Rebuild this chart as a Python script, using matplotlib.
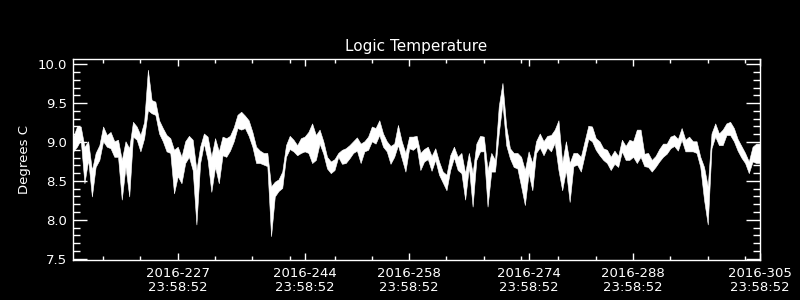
import matplotlib
matplotlib.use('Agg')
import matplotlib.pyplot as plt
import matplotlib.dates as mdates
from matplotlib.ticker import MultipleLocator, FormatStrFormatter, FixedLocator
from datetime import datetime, timedelta
import pandas as pd

# samples every 12 h starting 2016-08-01 00:00 (DOY 214)
start_time = '2016-08-01'
sample_step = '12h'

# upper / lower envelope of the logic temperature trace (deg C)
temp_hi = [
    9.07, 9.20, 9.20, 8.94, 9.01, 8.64, 8.86, 8.96, 9.20, 9.09, 9.13, 9.01, 9.03, 8.77, 9.01, 8.92,
    9.26, 9.20, 9.09, 9.26, 9.93, 9.54, 9.52, 9.28, 9.18, 9.09, 9.05, 8.90, 8.94, 8.81, 9.01,
    9.08, 9.03, 8.64, 8.94, 9.11, 9.07, 8.81, 9.05, 8.88, 9.07, 9.05, 9.08, 9.19, 9.35, 9.39,
    9.34, 9.28, 9.13, 8.94, 8.89, 8.86, 8.86, 8.43, 8.49, 8.52, 8.62, 8.96, 9.08, 9.03, 8.96,
    9.05, 9.07, 9.13, 9.24, 9.09, 9.16, 9.01, 8.81, 8.75, 8.78, 8.86, 8.90, 8.92, 8.96, 9.01, 9.06,
    8.98, 9.01, 9.07, 9.20, 9.18, 9.28, 9.11, 9.01, 8.95, 8.98, 9.22, 9.01, 8.86, 9.07, 9.07,
    9.08, 8.86, 8.91, 8.94, 8.82, 8.92, 8.75, 8.62, 8.58, 8.83, 8.94, 8.81, 8.86, 8.60, 8.86,
    8.60, 8.98, 9.08, 9.07, 8.64, 8.86, 8.77, 9.46, 9.76, 9.20, 8.92, 8.86, 8.86, 8.81, 8.64,
    8.88, 8.73, 9.01, 9.11, 9.01, 9.08, 9.09, 9.16, 9.28, 8.73, 9.01, 8.73, 8.86, 8.86, 8.81, 9.01,
    9.21, 9.20, 9.05, 9.01, 8.92, 8.90, 8.81, 8.89, 8.82, 9.03, 8.95, 9.03, 9.01, 9.16, 9.16,
    8.85, 8.86, 8.77, 8.82, 8.91, 8.98, 8.98, 9.07, 9.09, 9.04, 9.18, 9.03, 9.07, 9.01, 9.01, 8.81,
    8.68, 8.43, 9.11, 9.24, 9.11, 9.16, 9.24, 9.26, 9.18, 9.04, 8.95, 8.86, 8.75, 8.94, 8.98, 8.98,
]
temp_lo = [
    8.88, 8.94, 9.03, 8.47, 8.77, 8.30, 8.68, 8.77, 9.01, 8.94, 8.92, 8.81, 8.81, 8.26, 8.68, 8.30,
    9.07, 9.03, 8.88, 9.05, 9.41, 9.37, 9.35, 9.11, 9.01, 8.88, 8.86, 8.34, 8.56, 8.47, 8.73,
    8.81, 8.64, 7.94, 8.73, 8.98, 8.77, 8.36, 8.68, 8.47, 8.83, 8.81, 8.89, 9.01, 9.18, 9.16,
    9.18, 9.08, 8.94, 8.73, 8.73, 8.71, 8.69, 7.79, 8.30, 8.37, 8.41, 8.81, 8.91, 8.88, 8.83,
    8.86, 8.88, 8.86, 8.73, 8.77, 8.98, 8.85, 8.66, 8.60, 8.64, 8.81, 8.72, 8.73, 8.79, 8.86, 8.89,
    8.73, 8.88, 8.90, 9.01, 8.98, 9.09, 8.94, 8.88, 8.72, 8.81, 8.96, 8.79, 8.62, 8.92, 8.90,
    8.94, 8.64, 8.75, 8.78, 8.63, 8.77, 8.58, 8.48, 8.38, 8.64, 8.80, 8.64, 8.60, 8.26, 8.68,
    8.17, 8.77, 8.88, 8.88, 8.17, 8.62, 8.62, 9.11, 9.50, 8.96, 8.79, 8.68, 8.66, 8.43, 8.19,
    8.60, 8.38, 8.86, 8.93, 8.83, 8.93, 8.88, 8.99, 8.64, 8.38, 8.64, 8.23, 8.69, 8.71, 8.62, 8.83,
    9.04, 9.01, 8.90, 8.83, 8.77, 8.73, 8.64, 8.72, 8.68, 8.88, 8.77, 8.77, 8.81, 8.73, 8.81,
    8.69, 8.68, 8.62, 8.68, 8.75, 8.81, 8.85, 8.92, 8.95, 8.89, 9.03, 8.88, 8.88, 8.88, 8.86, 8.68,
    8.26, 7.94, 8.92, 9.07, 8.96, 8.96, 9.09, 9.09, 9.01, 8.89, 8.80, 8.73, 8.60, 8.75, 8.73, 8.73,
]

# labelled ticks: day of year 2016, all at 23:58:52
tick_days = [227, 244, 258, 274, 288, 305]
minor_monthdays = [5, 10, 15, 20, 25, 30]

times = pd.date_range(start_time, periods=len(temp_hi), freq=sample_step)
tick_times = [datetime(2016, 1, 1) + timedelta(days=d - 1, hours=23, minutes=58, seconds=52)
              for d in tick_days]

fg = 'white'
plt.rcParams['font.family'] = 'DejaVu Sans'

fig = plt.figure(figsize=(8, 3), dpi=100, facecolor='black')
ax = fig.add_axes([0.0909, 0.1333, 0.8591, 0.669], facecolor='black')

# IDL-style thick trace: fill between the envelopes
ax.fill_between(times, temp_lo, temp_hi, color=fg, lw=0.4, edgecolor=fg)

ax.set_xlim(datetime(2016, 7, 31, 22, 20), tick_times[-1])
ax.set_ylim(7.483, 10.064)

ax.xaxis.set_major_locator(FixedLocator(mdates.date2num(tick_times)))
ax.xaxis.set_major_formatter(mdates.DateFormatter('%Y-%j\n%H:%M:%S'))
ax.xaxis.set_minor_locator(mdates.DayLocator(bymonthday=minor_monthdays))
ax.yaxis.set_major_locator(MultipleLocator(0.5))
ax.yaxis.set_minor_locator(MultipleLocator(0.1))
ax.yaxis.set_major_formatter(FormatStrFormatter('%.1f'))

for s in ax.spines.values():
    s.set_color(fg)
    s.set_linewidth(1)

ax.tick_params(axis='both', which='both', direction='in', colors=fg, width=1,
               top=True, right=True, labelsize=9.5)
ax.tick_params(axis='x', which='major', length=4.8, pad=5)
ax.tick_params(axis='x', which='minor', length=2.9)
ax.tick_params(axis='y', which='major', length=10, pad=4)
ax.tick_params(axis='y', which='minor', length=5)
for lab in ax.get_xticklabels():
    lab.set_linespacing(1.15)

ax.set_title('Logic Temperature', color=fg, fontsize=11, pad=6)
ax.set_ylabel('Degrees C', color=fg, fontsize=9.5, labelpad=5)

fig.savefig('out.png', dpi=100, facecolor='black')
